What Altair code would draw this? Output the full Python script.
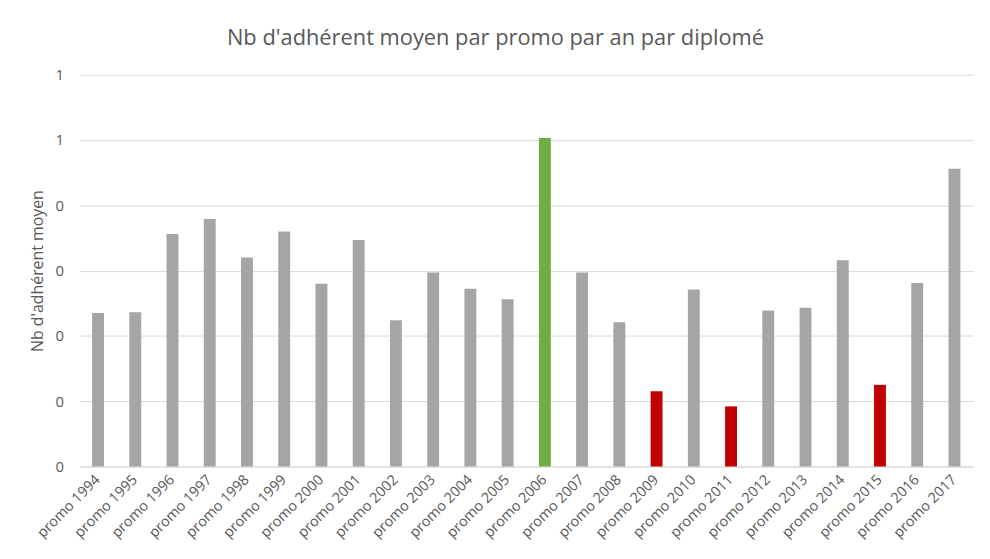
import altair as alt
import pandas as pd

promos = ["promo 1994", "promo 1995", "promo 1996", "promo 1997", "promo 1998", "promo 1999",
          "promo 2000", "promo 2001", "promo 2002", "promo 2003", "promo 2004", "promo 2005",
          "promo 2006", "promo 2007", "promo 2008", "promo 2009", "promo 2010", "promo 2011",
          "promo 2012", "promo 2013", "promo 2014", "promo 2015", "promo 2016", "promo 2017"]
values = [0.235, 0.236, 0.356, 0.379, 0.320, 0.360,
          0.280, 0.347, 0.224, 0.297, 0.272, 0.256,
          0.503, 0.297, 0.221, 0.115, 0.271, 0.092,
          0.239, 0.243, 0.316, 0.125, 0.281, 0.456]
groups = ["normal"] * 12 + ["best"] + ["normal"] * 2 + ["low", "normal", "low",
          "normal", "normal", "normal", "low", "normal", "normal"]
y_ticks = [0, 0.1, 0.2, 0.3, 0.4, 0.5, 0.6]

df = pd.DataFrame({"promo": promos, "val": values, "grp": groups})

FONT = "Open Sans"
TXT = "#595959"

chart = alt.Chart(df).mark_bar(size=12).encode(
    x=alt.X("promo:N", sort=promos, title=None,
            scale=alt.Scale(paddingInner=0.68, paddingOuter=0.34),
            axis=alt.Axis(labelAngle=315, labelAlign="right", labelBaseline="middle",
                          labelPadding=11, labelFontSize=14.5, labelColor=TXT, labelFont=FONT,
                          domain=True, domainColor="#D9D9D9", domainWidth=1,
                          ticks=False, grid=False)),
    y=alt.Y("val:Q", title="Nb d'adhérent moyen",
            scale=alt.Scale(domain=[0, 0.6], nice=False),
            axis=alt.Axis(values=y_ticks, labelExpr="round(datum.value)",
                          labelFontSize=15, labelColor=TXT, labelFont=FONT, labelPadding=16,
                          domain=False, ticks=False, grid=True, gridColor="#D9D9D9",
                          gridWidth=1, titleFont=FONT, titleFontSize=16,
                          titleColor=TXT, titleFontWeight="normal", titlePadding=10)),
    color=alt.Color("grp:N", legend=None,
                    scale=alt.Scale(domain=["normal", "best", "low"],
                                    range=["#A5A5A5", "#70AD47", "#C00000"])),
).properties(
    width=901, height=395,
    padding={"left": 72, "top": 65, "right": 9, "bottom": 83},
    autosize=alt.AutoSizeParams(type="none"),
    title=alt.TitleParams("Nb d'adhérent moyen par promo par an par diplomé",
                          font=FONT, fontSize=22, fontWeight="normal", color=TXT,
                          anchor="middle", dx=-31, offset=18),
).configure_view(stroke=None)

chart.save("out.html", embed_options={"renderer": "svg", "actions": False})
